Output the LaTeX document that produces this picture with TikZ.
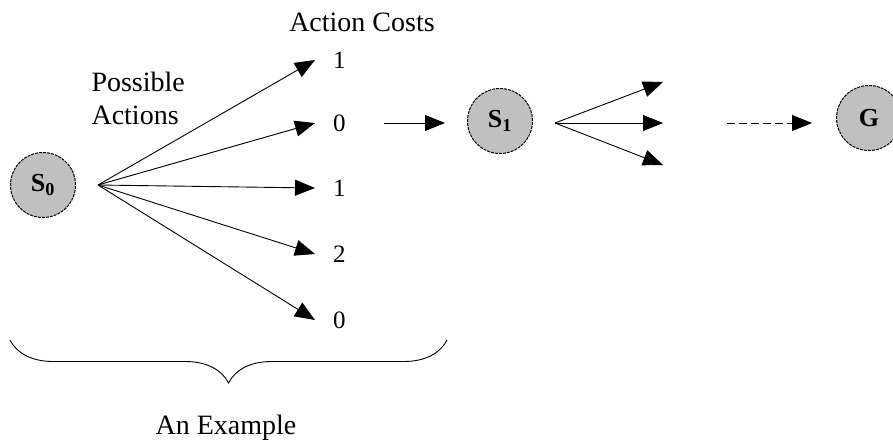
\documentclass[tikz,border=0pt]{standalone}
\usepackage{fontspec}
\setmainfont{Liberation Serif}
\usetikzlibrary{positioning, arrows.meta, decorations.pathreplacing, calc}
\definecolor{stGray}{HTML}{C0C0C0}

\begin{document}
\begin{tikzpicture}[x=1pt, y=1pt,
  state/.style={circle, draw, fill=stGray, minimum size=65pt, inner sep=0pt,
                line width=1pt, dash pattern=on 3pt off 1pt,
                font=\fontsize{26}{26}\selectfont\bfseries},
  cost/.style={font=\fontsize{25}{25}\selectfont, inner sep=2pt},
  lab/.style={font=\fontsize{28}{33}\selectfont, align=left},
  act/.style={-{Triangle[length=20pt, width=16pt]}, line width=0.9pt},
  brc/.style={decorate, decoration={brace, mirror, amplitude=43pt}, line width=0.9pt}
]
\useasboundingbox (0,0) rectangle (893,-447);

% ===== start state and possible actions =====
\node[state] (s0) at (43,-185) {S\textsubscript{0}};
\coordinate (o0) at ([xshift=22pt]s0.east);

\node[lab, anchor=west] (pa) at (88,-98) {Possible\\Actions};
\node[lab] (ac) at (362,-22) {Action Costs};

\foreach \y/\c [count=\i] in {60/1, 123/0, 188/1, 254/2, 320/0} {
  \coordinate (t\i) at (315,-\y);
  \node[cost, right=16pt of t\i] (c\i) {\c};
  \draw[act] (o0) -- (t\i);
}

% ===== next state =====
\node[state] (s1) at (500,-121) {S\textsubscript{1}};
\draw[act, shorten <=36pt, shorten >=22pt] (c2.east) -- (c2.east -| s1.west);

\coordinate (o1) at ([xshift=22pt]s1.east |- c2);
\foreach \y [count=\i] in {82, 123, 165} {
  \coordinate (u\i) at (663,-\y);
  \draw[act] (o1) -- (u\i);
}

% ===== goal =====
\node[state] (g) at (869,-118) {G};
\coordinate (d0) at ([xshift=64pt]u2);
\draw[act, dash pattern=on 8pt off 4pt, shorten >=24pt] (d0) -- (d0 -| g.west);

% brace under the example
\coordinate (bl) at (10,-340);
\coordinate (br) at (447,-340);
\draw[brc] (bl) -- (br);
\node[font=\fontsize{28}{28}\selectfont] (ex) at (226,-428) {An Example};

\end{tikzpicture}
\end{document}
